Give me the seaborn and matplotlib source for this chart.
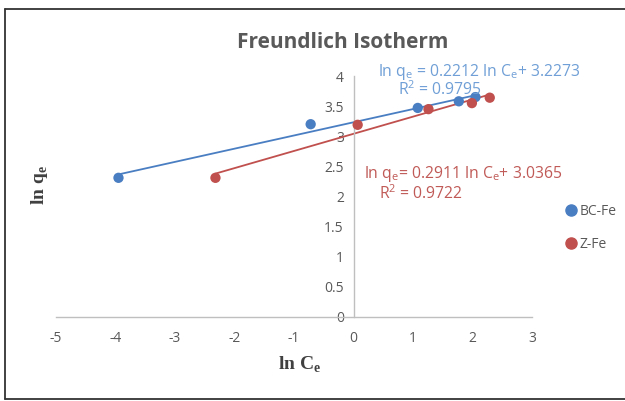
import matplotlib
matplotlib.use("Agg")
import matplotlib.pyplot as plt
import seaborn as sns
import pandas as pd
from matplotlib.lines import Line2D

# ---- data ----
bc_x = [-3.95, -0.72, 1.08, 1.77, 2.05]
bc_y = [2.31, 3.20, 3.47, 3.58, 3.65]
z_x = [-2.32, 0.07, 1.26, 1.99, 2.29]
z_y = [2.31, 3.19, 3.45, 3.55, 3.64]
series_names = ["BC-Fe", "Z-Fe"]
x_ticks = [-5, -4, -3, -2, -1, 0, 1, 2, 3]
y_ticks = [0, 0.5, 1, 1.5, 2, 2.5, 3, 3.5, 4]
y_tick_labels = ["0", "0.5", "1", "1.5", "2", "2.5", "3", "3.5", "4"]
eq_bc = "ln q$_\\mathregular{e}$ = 0.2212 ln C$_\\mathregular{e}$+ 3.2273"
r2_bc = "R$^\\mathregular{2}$ = 0.9795"
eq_z = "ln q$_\\mathregular{e}$= 0.2911 ln C$_\\mathregular{e}$+ 3.0365"
r2_z = "R$^\\mathregular{2}$ = 0.9722"

df = pd.DataFrame({
    "x": bc_x + z_x,
    "y": bc_y + z_y,
    "series": [series_names[0]] * len(bc_x) + [series_names[1]] * len(z_x),
})

sns.set_theme(style="white")
plt.rcParams["font.family"] = ["Open Sans", "DejaVu Sans"]

blue = "#4A7EC2"
red = "#C0504D"
blue_txt = "#6F9FD6"
red_txt = "#C05A57"
gray_txt = "#595959"

fig = plt.figure(figsize=(6.25, 4.01), dpi=100)
ax = fig.add_axes([56 / 625, 1 - 317 / 401, (532 - 56) / 625, (317 - 76) / 401])

palette = {series_names[0]: blue, series_names[1]: red}
for name in series_names:
    sub = df[df["series"] == name]
    sns.regplot(data=sub, x="x", y="y", ax=ax, ci=None, truncate=True,
                scatter=False, line_kws={"color": palette[name], "lw": 1.3})
sns.scatterplot(data=df, x="x", y="y", hue="series", palette=palette, ax=ax,
                s=55, edgecolor="none", legend=False, zorder=5)

ax.set_xlim(-5, 3)
ax.set_ylim(0, 4)
ax.set_xticks(x_ticks)
ax.set_xticklabels([str(t) for t in x_ticks])
ax.set_yticks(y_ticks)
ax.set_yticklabels(y_tick_labels)
for s in ["top", "right"]:
    ax.spines[s].set_visible(False)
ax.spines["left"].set_position(("data", 0))
ax.spines["left"].set_color("#BFBFBF")
ax.spines["bottom"].set_color("#BFBFBF")
ax.spines["left"].set_linewidth(1.0)
ax.spines["bottom"].set_linewidth(1.0)
ax.tick_params(axis="both", length=0, labelsize=10, colors=gray_txt)
ax.tick_params(axis="x", pad=10)
ax.tick_params(axis="y", pad=7)
ax.set_xlabel("")
ax.set_ylabel("")

fig.text(343 / 625, 1 - 42 / 401, "Freundlich Isotherm", ha="center", va="center",
         fontsize=15, fontweight="bold", color=gray_txt)
fig.text(300 / 625, 1 - 365 / 401, "ln C$_\\mathregular{e}$", ha="center", va="center",
         fontsize=14, fontweight="bold", family="Liberation Serif", color="#404040")
fig.text(40 / 625, 1 - 185 / 401, "ln q$_\\mathregular{e}$", ha="center", va="center",
         rotation=90, fontsize=14, fontweight="bold", family="Liberation Serif", color="#404040")

fig.text(378 / 625, 1 - 72 / 401, eq_bc, ha="left", va="center", fontsize=11.3, color=blue_txt)
fig.text(440 / 625, 1 - 90 / 401, r2_bc, ha="center", va="center", fontsize=11.3, color=blue_txt)
fig.text(364 / 625, 1 - 174 / 401, eq_z, ha="left", va="center", fontsize=11.3, color=red_txt)
fig.text(421 / 625, 1 - 194 / 401, r2_z, ha="center", va="center", fontsize=11.3, color=red_txt)

handles = [Line2D([], [], marker="o", ls="", color=palette[n], markersize=8) for n in series_names]
leg = fig.legend(handles, series_names, loc="center left", bbox_to_anchor=(557 / 625, 1 - 228 / 401),
                 frameon=False, fontsize=10, handletextpad=0.0, labelspacing=1.3,
                 handlelength=1.2, borderaxespad=0)
for t in leg.get_texts():
    t.set_color(gray_txt)

# outer chart frame (left, top, bottom)
frame_kw = dict(color="#333333", lw=1.3, transform=fig.transFigure)
fig.add_artist(Line2D([5 / 625, 5 / 625], [1 - 9 / 401, 1 - 399 / 401], **frame_kw))
fig.add_artist(Line2D([5 / 625, 1.0], [1 - 9 / 401, 1 - 9 / 401], **frame_kw))
fig.add_artist(Line2D([5 / 625, 1.0], [1 - 399 / 401, 1 - 399 / 401], **frame_kw))

fig.savefig("out.png", dpi=100)
